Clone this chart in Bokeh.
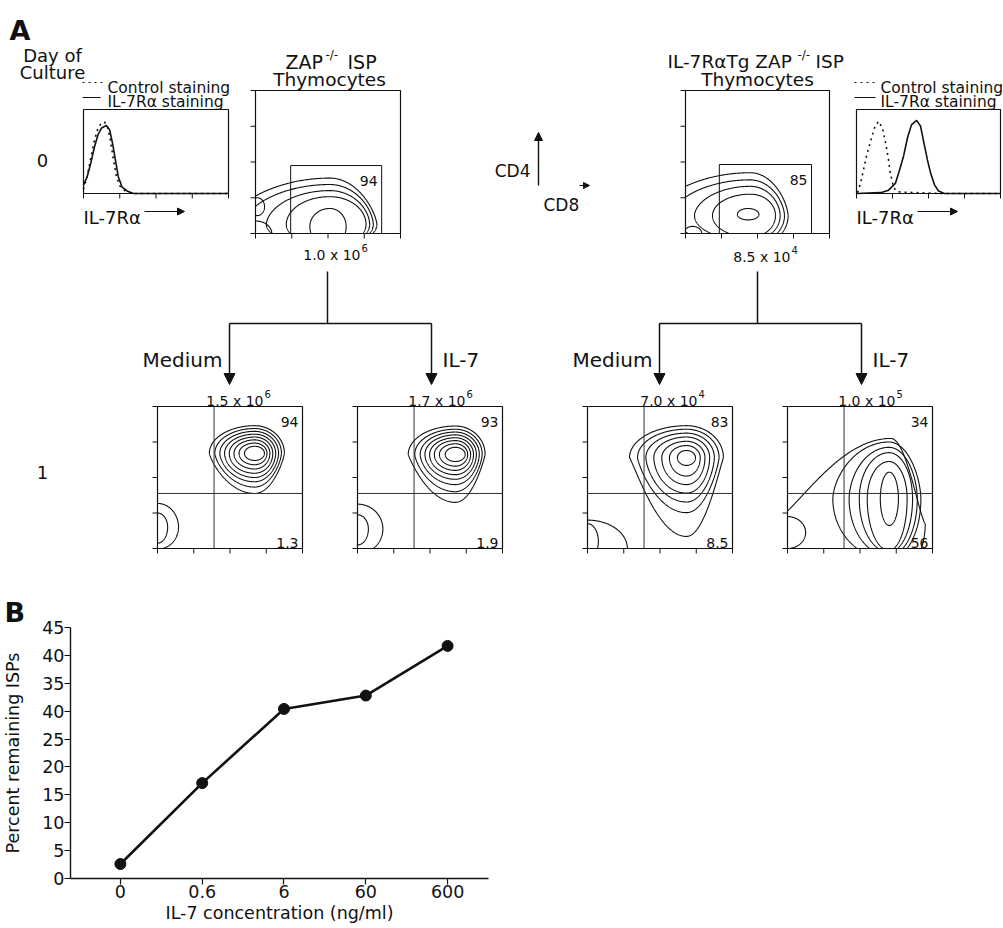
import numpy as np
from bokeh.plotting import figure
from bokeh.models import Range1d, Arrow, NormalHead, FixedTicker
from bokeh.core.properties import value
from bokeh.embed import file_html
from bokeh.resources import INLINE

FONT = "DejaVu Sans"
INK = "#111111"

# ---------------- Panel B data ----------------
IL7_CONC = ["0", "0.6", "6", "60", "600"]
PCT_REMAINING = [2.6, 17.1, 30.4, 32.8, 41.7]
Y_TICKS = [0, 5, 10, 15, 20, 25, 30, 35, 40, 45]
Y_TICK_LABELS = ["0", "5", "10", "15", "20", "25", "40", "35", "40", "45"]

# ---------------- Panel A: histograms (x in decades 0-4, y = fraction of box height) ----------------
HIST_ZAP_CTRL_X = [0.0, 0.1, 0.2, 0.3, 0.4, 0.5, 0.58, 0.66, 0.74, 0.82, 0.9, 1.0, 1.15, 1.32, 4.0]
HIST_ZAP_CTRL_Y = [0.05, 0.2, 0.42, 0.63, 0.78, 0.84, 0.85, 0.8, 0.64, 0.42, 0.22, 0.09, 0.03, 0.0, 0.0]
HIST_ZAP_IL7R_X = [0.0, 0.1, 0.2, 0.3, 0.4, 0.5, 0.63, 0.72, 0.8, 0.88, 0.96, 1.06, 1.2, 1.38, 4.0]
HIST_ZAP_IL7R_Y = [0.1, 0.2, 0.36, 0.55, 0.7, 0.78, 0.81, 0.76, 0.6, 0.4, 0.2, 0.08, 0.03, 0.0, 0.0]
HIST_TG_CTRL_X = [0.03, 0.11, 0.19, 0.28, 0.39, 0.5, 0.61, 0.72, 0.81, 0.89, 0.94, 1.03, 1.14, 1.36, 2.33, 4.0]
HIST_TG_CTRL_Y = [0.01, 0.12, 0.27, 0.45, 0.62, 0.78, 0.86, 0.78, 0.6, 0.4, 0.24, 0.07, 0.02, 0.015, 0.0, 0.0]
HIST_TG_IL7R_X = [0.0, 0.67, 0.89, 1.08, 1.19, 1.31, 1.42, 1.53, 1.67, 1.78, 1.86, 1.97, 2.06, 2.17, 2.28, 2.44, 4.0]
HIST_TG_IL7R_Y = [0.0, 0.01, 0.04, 0.12, 0.27, 0.45, 0.67, 0.82, 0.87, 0.8, 0.63, 0.4, 0.24, 0.1, 0.03, 0.0, 0.0]

# ---------------- Panel A: contour levels (CD8 x, CD4 y in decades 0-4) ----------------
# each level: (cx, cy, r_left, r_right, r_up, r_down, shape_up, shape_down)
CONT_ZAP_D0 = [
    (2.05, 0.25, 2.90, 1.30, 1.30, 0.6, 1.4, 1.0),
    (2.05, 0.25, 2.40, 1.20, 1.12, 0.6, 1.2, 1.0),
    (2.05, 0.25, 1.75, 1.10, 0.95, 0.6, 1.1, 1.0),
    (2.05, 0.25, 1.20, 1.00, 0.78, 0.6, 1.0, 1.0),
    (2.05, 0.20, 0.55, 0.45, 0.50, 0.6, 1.0, 1.0),
    (0.05, 0.75, 0.20, 0.20, 0.25, 0.25, 1.0, 1.0),
    (0.00, 0.00, 0.45, 0.45, 0.35, 0.35, 1.0, 1.0),
]
CONT_TG_D0 = [
    (1.80, 0.50, 2.70, 1.05, 1.20, 0.90, 1.3, 1.0),
    (1.80, 0.50, 2.20, 0.95, 1.00, 0.80, 1.2, 1.0),
    (1.80, 0.50, 1.55, 0.83, 0.82, 0.70, 1.1, 1.0),
    (1.80, 0.50, 1.05, 0.70, 0.60, 0.60, 1.0, 1.0),
    (1.74, 0.53, 0.30, 0.30, 0.17, 0.15, 1.0, 1.0),
    (0.20, 0.00, 0.25, 0.25, 0.20, 0.20, 1.0, 1.0),
]
CONT_ZAP_MED = [
    (2.68, 2.68, 1.25, 0.82, 0.78, 1.13, 1.0, 1.6),
    (2.68, 2.68, 1.10, 0.74, 0.70, 0.95, 1.0, 1.4),
    (2.68, 2.68, 0.96, 0.66, 0.62, 0.80, 1.0, 1.2),
    (2.68, 2.68, 0.83, 0.58, 0.54, 0.68, 1.0, 1.1),
    (2.68, 2.68, 0.70, 0.50, 0.46, 0.56, 1.0, 1.0),
    (2.68, 2.68, 0.57, 0.42, 0.38, 0.44, 1.0, 1.0),
    (2.68, 2.68, 0.43, 0.34, 0.29, 0.32, 1.0, 1.0),
    (2.68, 2.68, 0.28, 0.27, 0.20, 0.20, 1.0, 1.0),
    (0.00, 0.60, 0.58, 0.58, 0.67, 0.62, 1.0, 1.0),
    (0.00, 0.60, 0.28, 0.28, 0.40, 0.45, 1.0, 1.0),
]
CONT_ZAP_IL7 = [
    (2.70, 2.65, 1.30, 0.82, 0.80, 1.35, 1.0, 1.8),
    (2.70, 2.65, 1.12, 0.74, 0.71, 1.05, 1.0, 1.4),
    (2.70, 2.65, 0.97, 0.66, 0.63, 0.85, 1.0, 1.2),
    (2.70, 2.65, 0.84, 0.58, 0.55, 0.70, 1.0, 1.1),
    (2.70, 2.65, 0.71, 0.50, 0.47, 0.57, 1.0, 1.0),
    (2.70, 2.65, 0.58, 0.42, 0.39, 0.45, 1.0, 1.0),
    (2.70, 2.65, 0.44, 0.34, 0.30, 0.33, 1.0, 1.0),
    (2.70, 2.65, 0.28, 0.27, 0.20, 0.20, 1.0, 1.0),
    (0.00, 0.55, 0.70, 0.70, 0.70, 0.70, 1.0, 1.0),
    (0.00, 0.55, 0.30, 0.30, 0.40, 0.45, 1.0, 1.0),
]
CONT_TG_MED = [
    (2.73, 2.56, 1.57, 1.02, 0.90, 2.22, 1.0, 2.2),
    (2.73, 2.56, 1.35, 0.90, 0.80, 1.55, 1.0, 1.6),
    (2.73, 2.56, 1.12, 0.77, 0.69, 1.25, 1.0, 1.3),
    (2.73, 2.56, 0.90, 0.64, 0.58, 1.00, 1.0, 1.1),
    (2.73, 2.56, 0.68, 0.51, 0.46, 0.76, 1.0, 1.0),
    (2.73, 2.56, 0.47, 0.38, 0.34, 0.52, 1.0, 1.0),
    (2.73, 2.56, 0.25, 0.25, 0.20, 0.22, 1.0, 1.0),
    (0.00, 0.00, 1.10, 1.10, 0.80, 0.80, 1.0, 1.0),
    (0.00, 0.20, 0.30, 0.30, 0.50, 0.50, 1.0, 1.0),
]
CONT_TG_IL7 = [
    (2.85, 0.70, 3.30, 0.95, 2.40, 1.50, 2.8, 1.0),
    (2.80, 1.40, 1.55, 0.88, 1.60, 1.70, 1.2, 1.0),
    (2.80, 1.40, 1.10, 0.78, 1.45, 1.60, 1.1, 1.0),
    (2.80, 1.40, 0.82, 0.65, 1.30, 1.50, 1.0, 1.0),
    (2.80, 1.40, 0.60, 0.50, 1.05, 1.45, 1.0, 1.0),
    (2.81, 1.40, 0.25, 0.25, 0.75, 0.75, 1.0, 1.0),
    (0.00, 0.45, 0.50, 0.50, 0.45, 0.45, 1.0, 1.0),
]

# quadrant / gate stats
GATE_PCT_D0 = ["94", "85"]
QUAD_PCT_TOP = ["94", "93", "83", "34"]
QUAD_PCT_BOT = ["1.3", "1.9", "8.5", "56"]
CELL_COUNT_MAIN = ["1.0 x 10", "8.5 x 10", "1.5 x 10", "1.7 x 10", "7.0 x 10", "1.0 x 10"]
CELL_COUNT_EXP = ["6", "4", "6", "6", "4", "5"]

# ---------------- figure A ----------------
W, H = 1003, 594
p = figure(width=W, height=H, x_range=Range1d(0, W), y_range=Range1d(H, 0),
           output_backend="svg", toolbar_location=None, x_axis_location=None,
           y_axis_location=None, min_border=0, title=None)
p.grid.visible = False
p.outline_line_color = None


def T(x, y, s, size, align="left", baseline="alphabetic", bold=False):
    p.text(x=[x], y=[y], text=[s], text_font=value(FONT), text_font_size=value(f"{size}px"),
           text_align=align, text_baseline=baseline, text_color=INK,
           text_font_style="bold" if bold else "normal")


def seg(x0, y0, x1, y1, w=1.2, dash="solid", color=INK):
    p.line([x0, x1], [y0, y1], line_color=color, line_width=w, line_dash=dash)


def arrow(x0, y0, x1, y1, size=10, w=1.4):
    p.add_layout(Arrow(end=NormalHead(size=size, fill_color=INK, line_color=INK),
                       x_start=x0, y_start=y0, x_end=x1, y_end=y1,
                       line_color=INK, line_width=w))


def box(L, T_, R, B, left_ticks=True):
    p.quad(left=[L], right=[R], top=[T_], bottom=[B], fill_alpha=0, line_color=INK, line_width=1.2)
    xs, ys = [], []
    for i in range(5):
        xx = L + i * (R - L) / 4
        xs.append([xx, xx]); ys.append([B, B + 5])
        if left_ticks:
            yy = B - i * (B - T_) / 4
            xs.append([L - 5, L]); ys.append([yy, yy])
    p.multi_line(xs, ys, line_color=INK, line_width=1.0)


def egg(level, n=500):
    cx, cy, rl, rr, ru, rd, qu, qd = level
    t = np.linspace(0, 2 * np.pi, n)
    c, s = np.cos(t), np.sin(t)
    x = cx + np.where(c < 0, rl, rr) * c
    y = cy + np.where(s > 0, ru * np.abs(s) ** qu, -rd * np.abs(s) ** qd)
    inside = (x >= 0) & (x <= 4) & (y >= 0) & (y <= 4)
    return np.where(inside, x, np.nan), np.where(inside, y, np.nan)


def contours(levels, L, T_, R, B):
    xs, ys = [], []
    for lev in levels:
        x, y = egg(lev)
        xs.append(L + x * (R - L) / 4)
        ys.append(B - y * (B - T_) / 4)
    p.multi_line(xs, ys, line_color=INK, line_width=1.1)


def hist(xv, yv, L, T_, R, B, dash):
    xv = np.asarray(xv); yv = np.asarray(yv)
    p.line(L + xv * (R - L) / 4, B - yv * (B - T_), line_color=INK, line_width=1.6, line_dash=dash)


# header texts
T(9, 14, "A", 27, baseline="top", bold=True)
T(52, 55, "Day of", 18, align="center")
T(52, 72, "Culture", 18, align="center")
T(42, 160, "0", 18, align="center")
T(42, 472, "1", 18, align="center")

# left histogram
HL = (83, 109, 228, 193)
seg(82, 82, 103, 82, w=1.2, dash="dotted")
T(107, 87, "Control staining", 15.5)
seg(82, 97, 100, 97, w=1.2)
T(107, 101, "IL-7R\u03b1 staining", 15.5)
box(*HL, left_ticks=False)
hist(HIST_ZAP_CTRL_X, HIST_ZAP_CTRL_Y, *HL, dash="dotted")
hist(HIST_ZAP_IL7R_X, HIST_ZAP_IL7R_Y, *HL, dash="solid")
T(83, 217, "IL-7R\u03b1", 18)
arrow(144, 211, 184, 211, size=7, w=1.0)

# right histogram
HR = (856, 109, 1000, 193)
seg(854, 82, 877, 82, w=1.2, dash="dotted")
T(880, 87, "Control staining", 15.5)
seg(854, 97, 875, 97, w=1.2)
T(880, 101, "IL-7R\u03b1 staining", 15.5)
box(*HR, left_ticks=False)
hist(HIST_TG_CTRL_X, HIST_TG_CTRL_Y, *HR, dash="dotted")
hist(HIST_TG_IL7R_X, HIST_TG_IL7R_Y, *HR, dash="solid")
T(856, 217, "IL-7R\u03b1", 18)
arrow(917, 211, 957, 211, size=7, w=1.0)

# day 0 contour plots
B0a = (255, 90, 400, 233)
B0b = (685, 90, 829, 233)
T(285, 61, "ZAP", 19)
T(325, 54, "-/-", 12)
T(347, 61, "ISP", 19)
T(329, 79, "Thymocytes", 18.5, align="center")
T(667, 61, "IL-7R\u03b1Tg ZAP", 18.5)
T(797, 54, "-/-", 12)
T(815, 61, "ISP", 18.5)
T(757, 79, "Thymocytes", 18.5, align="center")
for bx, lev, gx0, gx1, gy1, pct in [(B0a, CONT_ZAP_D0, 0.97, 3.48, 1.9, GATE_PCT_D0[0]),
                                    (B0b, CONT_TG_D0, 0.94, 3.5, 1.93, GATE_PCT_D0[1])]:
    L, T_, R, B = bx
    box(*bx)
    contours(lev, *bx)
    gl = L + gx0 * (R - L) / 4
    gr = L + gx1 * (R - L) / 4
    gt = B - gy1 * (B - T_) / 4
    p.quad(left=[gl], right=[gr], top=[gt], bottom=[B], fill_alpha=0, line_color=INK, line_width=1.0)
    T(gr - 4, gt + 15, pct, 14, align="right")

# CD4 / CD8 orientation
arrow(538, 185, 538, 132, size=8, w=1.4)
T(530, 170, "CD4", 17, align="right")
T(543, 204, "CD8", 17)
arrow(579, 185, 589, 185, size=6, w=1.2)

# counts day 0
T(360, 254, CELL_COUNT_MAIN[0], 14, align="right")
T(361, 247, CELL_COUNT_EXP[0], 10)
T(790, 256, CELL_COUNT_MAIN[1], 14, align="right")
T(791, 249, CELL_COUNT_EXP[1], 10)

# trees
for xc, xl, xr in [(327, 229, 431), (757, 659, 861)]:
    seg(xc, 271, xc, 323, w=1.5)
    seg(xl, 323, xr, 323, w=1.5)
    arrow(xl, 323, xl, 384, size=11, w=1.5)
    arrow(xr, 323, xr, 384, size=11, w=1.5)
    T(xl - 7, 359, "Medium", 20, align="right")
    T(xr + 11, 359, "IL-7", 20)

# day 1 plots
D1_BOXES = [(157, 406, 302, 548), (357, 406, 502, 548), (587, 406, 732, 548), (787, 406, 932, 548)]
D1_LEVELS = [CONT_ZAP_MED, CONT_ZAP_IL7, CONT_TG_MED, CONT_TG_IL7]
ARROW_X = [229, 431, 659, 861]
for i, bx in enumerate(D1_BOXES):
    L, T_, R, B = bx
    box(*bx)
    contours(D1_LEVELS[i], *bx)
    qx = L + 1.56 * (R - L) / 4
    qy = B - 1.55 * (B - T_) / 4
    seg(qx, T_, qx, B, w=1.0, color="#333333")
    seg(L, qy, R, qy, w=1.0, color="#333333")
    T(R - 4, T_ + 15, QUAD_PCT_TOP[i], 14, align="right")
    T(R - 4, B - 6, QUAD_PCT_BOT[i], 14, align="right")
    ax = ARROW_X[i] + (38 if i == 2 else 34)
    T(ax, 400, CELL_COUNT_MAIN[i + 2], 14, align="right")
    T(ax + 1, 393, CELL_COUNT_EXP[i + 2], 10)

# ---------------- figure B ----------------
xpos = list(range(len(IL7_CONC)))
pb = figure(width=560, height=333, x_range=Range1d(-0.61, 4.5), y_range=Range1d(0, 45),
            output_backend="svg", toolbar_location=None, title="B",
            min_border_left=68, min_border_top=32, min_border_right=72, min_border_bottom=49)
pb.title.text_font = FONT
pb.title.text_font_size = "27px"
pb.title.text_font_style = "bold"
pb.title.text_color = INK
pb.title.align = "left"
pb.title.offset = -66
pb.title.standoff = 0
pb.grid.visible = False
pb.outline_line_color = None
pb.line(xpos, PCT_REMAINING, line_color=INK, line_width=2.6)
pb.scatter(xpos, PCT_REMAINING, size=11, fill_color=INK, line_color=INK)

pb.xaxis.ticker = FixedTicker(ticks=xpos)
pb.xaxis.major_label_overrides = {i: s for i, s in zip(xpos, IL7_CONC)}
pb.yaxis.ticker = FixedTicker(ticks=Y_TICKS)
pb.yaxis.major_label_overrides = {t: s for t, s in zip(Y_TICKS, Y_TICK_LABELS)}
pb.xaxis.axis_label = "IL-7 concentration (ng/ml)"
pb.yaxis.axis_label = "Percent remaining ISPs"
for ax in (pb.xaxis[0], pb.yaxis[0]):
    ax.axis_line_color = INK
    ax.axis_line_width = 1.4
    ax.major_tick_line_color = INK
    ax.major_tick_line_width = 1.2
    ax.major_tick_in = 0
    ax.major_tick_out = 6
    ax.minor_tick_line_color = None
    ax.major_label_text_font = FONT
    ax.major_label_text_font_size = "17.5px"
    ax.major_label_text_color = INK
    ax.axis_label_text_font = FONT
    ax.axis_label_text_font_size = "17.5px"
    ax.axis_label_text_font_style = "normal"
    ax.axis_label_text_color = INK
pb.xaxis.major_label_standoff = 0
pb.xaxis.axis_label_standoff = 2
pb.yaxis.major_label_standoff = 0
pb.yaxis.axis_label_standoff = 16

open("out.html", "w").write(file_html([p, pb], INLINE))
